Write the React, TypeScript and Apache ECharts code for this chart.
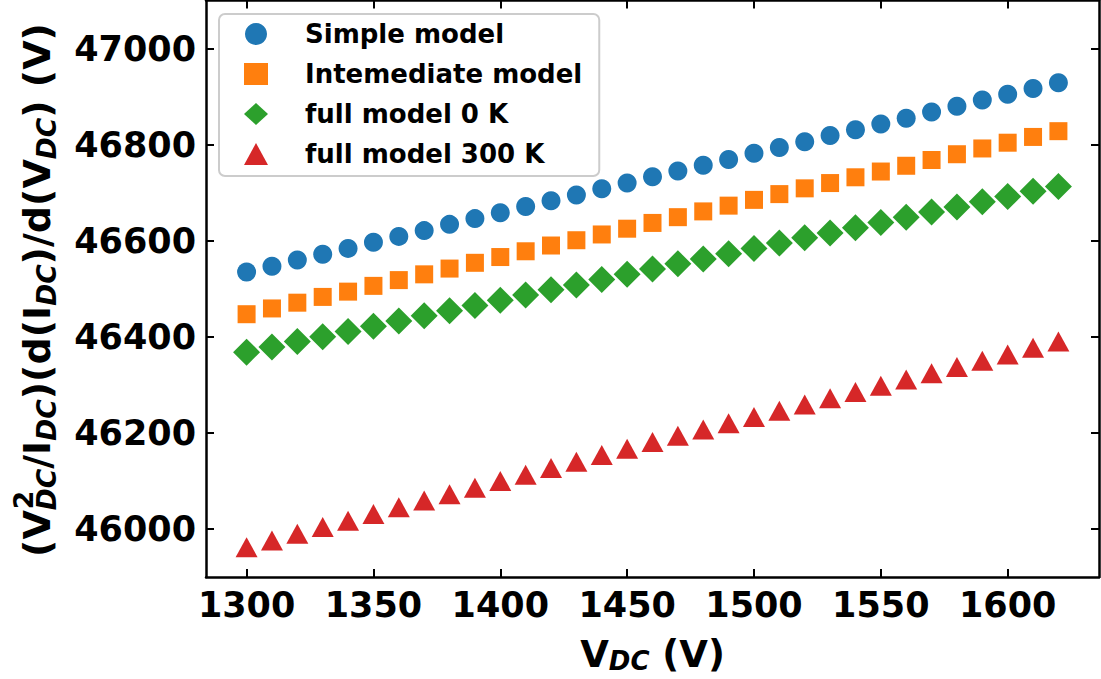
import React, { useEffect, useRef } from "react";
import * as echarts from "echarts";

const xValues = [
  1300, 1310, 1320, 1330, 1340, 1350, 1360, 1370, 1380, 1390, 1400, 1410,
  1420, 1430, 1440, 1450, 1460, 1470, 1480, 1490, 1500, 1510, 1520, 1530,
  1540, 1550, 1560, 1570, 1580, 1590, 1600, 1610, 1620,
];
const simpleModel = [
  46535, 46547, 46560, 46572, 46584, 46597, 46609, 46621, 46634, 46646, 46658,
  46671, 46683, 46695, 46708, 46720, 46733, 46745, 46757, 46769, 46782, 46794,
  46806, 46819, 46831, 46843, 46855, 46868, 46880, 46893, 46905, 46917, 46929,
];
const intermediateModel = [
  46447, 46459, 46471, 46483, 46494, 46506, 46518, 46530, 46542, 46554, 46566,
  46578, 46590, 46601, 46613, 46625, 46637, 46649, 46661, 46673, 46685, 46697,
  46709, 46720, 46732, 46744, 46756, 46768, 46780, 46792, 46804, 46816, 46828,
];
const fullModel0K = [
  46368, 46379, 46390, 46400, 46411, 46422, 46433, 46444, 46454, 46465, 46476,
  46487, 46498, 46508, 46519, 46530, 46541, 46552, 46562, 46573, 46584, 46595,
  46606, 46616, 46627, 46638, 46649, 46660, 46670, 46681, 46692, 46703, 46713,
];
const fullModel300K = [
  45962, 45976, 45990, 46004, 46017, 46031, 46045, 46059, 46072, 46086, 46100,
  46113, 46127, 46140, 46154, 46167, 46181, 46194, 46207, 46220, 46233, 46246,
  46259, 46272, 46285, 46298, 46311, 46324, 46337, 46350, 46363, 46377, 46390,
];
const seriesNames = [
  "Simple model",
  "Intemediate model",
  "full model 0 K",
  "full model 300 K",
];
const xTicks = [1300, 1350, 1400, 1450, 1500, 1550, 1600];
const yTicks = [46000, 46200, 46400, 46600, 46800, 47000];

const FONT = "'DejaVu Sans', 'Liberation Sans', sans-serif";
const COLORS = ["#1f77b4", "#ff7f0e", "#2ca02c", "#d62728"];

function measure(text: string, size: number, italic = false): number {
  const ctx = document.createElement("canvas").getContext("2d")!;
  ctx.font = `${italic ? "italic " : ""}bold ${size}px 'DejaVu Sans'`;
  return ctx.measureText(text).width;
}

function buildYLabel() {
  const MAIN = 38;
  const SMALL = 26.5;
  const CENT = 0.346;
  const children: any[] = [];
  let cx = 0;
  const put = (text: string, size: number, baseline: number, italic: boolean, x: number) => {
    children.push({
      type: "text",
      x,
      y: baseline - CENT * size,
      style: {
        text,
        fontSize: size,
        fontWeight: "bold",
        fontStyle: italic ? "italic" : "normal",
        fontFamily: FONT,
        fill: "#000",
        align: "left",
        verticalAlign: "middle",
      },
    });
  };
  const main = (t: string) => {
    put(t, MAIN, 0, false, cx);
    cx += measure(t, MAIN);
  };
  const sub = (t: string) => {
    put(t, SMALL, 6, true, cx);
    cx += measure(t, SMALL, true);
  };
  main("(V");
  put("2", SMALL, -17, false, cx + 1);
  sub("DC");
  main("/I");
  sub("DC");
  main(")(d(I");
  sub("DC");
  main(")/d(V");
  sub("DC");
  main(") (V)");
  return { children, total: cx };
}

export default function App() {
  const ref = useRef<HTMLDivElement>(null);
  useEffect(() => {
    if (!ref.current) return;
    const chart = echarts.init(ref.current, null, { renderer: "svg" });
    const yl = buildYLabel();
    const xMin = 1284;
    const xMax = 1636;
    const yMin = 45900;
    const yMax = 47100;
    const tickCommon = {
      inside: true,
      length: 8,
      lineStyle: { color: "#000", width: 2 },
    };
    const lineCommon = { show: true, onZero: false, lineStyle: { color: "#000", width: 2.5 } };
    const labelCommon = {
      fontSize: 35,
      fontWeight: "bold",
      fontFamily: FONT,
      color: "#000",
      formatter: (v: number) => String(v),
    };
    const symbols = ["circle", "rect", "diamond", "triangle"];
    const sizes: any[] = [19, 18, 27, [22, 20]];
    const data = [simpleModel, intermediateModel, fullModel0K, fullModel300K];
    chart.setOption({
      animation: false,
      grid: { left: 206, right: 2, top: 0.5, bottom: 98.5, containLabel: false },
      legend: {
        left: 219,
        top: 14,
        orient: "vertical",
        backgroundColor: "rgba(255,255,255,0.8)",
        borderColor: "#cccccc",
        borderWidth: 2,
        borderRadius: 6,
        padding: [5, 17, 7, 25],
        itemGap: 10,
        itemWidth: 24,
        itemHeight: 22,
        textStyle: {
          fontSize: 26,
          fontWeight: "bold",
          fontFamily: FONT,
          color: "#000",
          lineHeight: 30,
          padding: [0, 0, 0, 32],
        },
        data: seriesNames.map((n, i) => ({ name: n, icon: symbols[i] })),
      },
      xAxis: [
        {
          type: "value",
          min: xMin,
          max: xMax,
          position: "bottom",
          axisLine: lineCommon,
          axisTick: { ...tickCommon, customValues: xTicks },
          axisLabel: { ...labelCommon, margin: 10, customValues: xTicks },
          splitLine: { show: false },
          name: "{a|V}{s|DC}{a| (V)}",
          nameLocation: "middle",
          nameGap: 57,
          nameTextStyle: {
            rich: {
              a: { fontSize: 37, fontWeight: "bold", fontFamily: FONT, color: "#000", lineHeight: 40 },
              s: {
                fontSize: 26,
                fontWeight: "bold",
                fontStyle: "italic",
                fontFamily: FONT,
                color: "#000",
                lineHeight: 26,
                verticalAlign: "bottom",
              },
            },
          },
        },
        {
          type: "value",
          min: xMin,
          max: xMax,
          position: "top",
          axisLine: lineCommon,
          axisTick: { ...tickCommon, customValues: xTicks },
          axisLabel: { show: false },
          splitLine: { show: false },
        },
      ],
      yAxis: [
        {
          type: "value",
          min: yMin,
          max: yMax,
          position: "left",
          axisLine: lineCommon,
          axisTick: { ...tickCommon, customValues: yTicks },
          axisLabel: { ...labelCommon, margin: 10, customValues: yTicks },
          splitLine: { show: false },
        },
        {
          type: "value",
          min: yMin,
          max: yMax,
          position: "right",
          axisLine: lineCommon,
          axisTick: { ...tickCommon, customValues: yTicks },
          axisLabel: { show: false },
          splitLine: { show: false },
        },
      ],
      graphic: [
        {
          type: "group",
          x: 50,
          y: 290 + yl.total / 2,
          rotation: Math.PI / 2,
          children: yl.children,
        },
      ],
      series: seriesNames.map((name, i) => ({
        name,
        type: "scatter",
        xAxisIndex: 0,
        yAxisIndex: 0,
        symbol: symbols[i],
        symbolSize: sizes[i],
        itemStyle: { color: COLORS[i], opacity: 1 },
        emphasis: { disabled: true },
        data: xValues.map((x, j) => [x, data[i][j]]),
      })),
    });
    return () => chart.dispose();
  }, []);
  return (
    <div
      ref={ref}
      style={{ position: "fixed", left: 0, top: 0, width: 1101, height: 679, background: "#fff" }}
    />
  );
}
